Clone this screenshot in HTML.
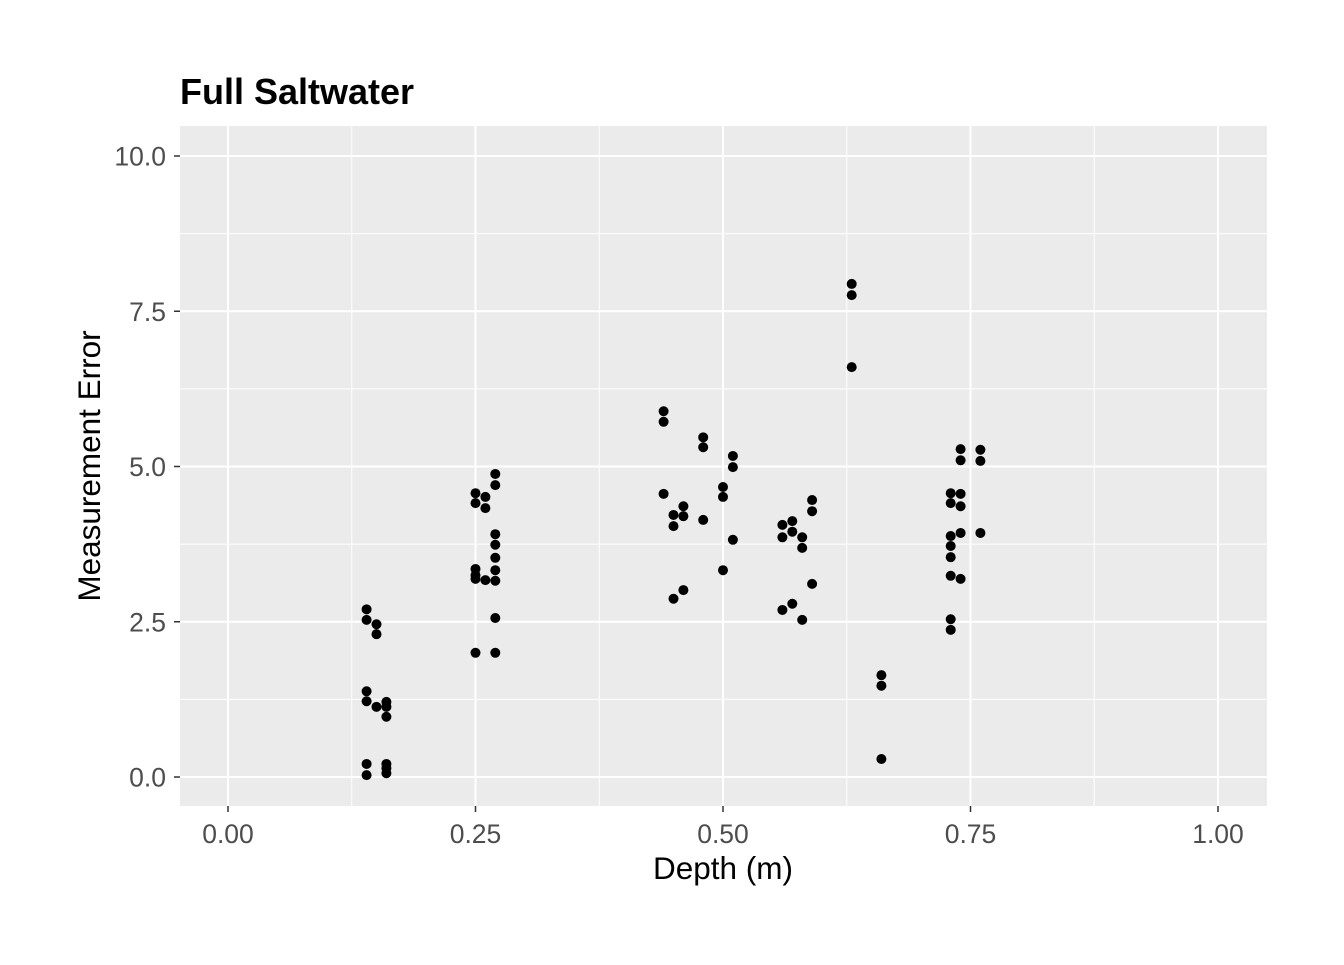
<!DOCTYPE html>
<html><head><meta charset="utf-8"><style>
body{margin:0;background:#fff;}
svg text{font-family:"Liberation Sans",sans-serif;}
</style></head><body>
<svg id="chart" width="1344" height="960" xmlns="http://www.w3.org/2000/svg">
<rect width="1344" height="960" fill="#fff"/>
<text x="180" y="104" font-size="36" font-weight="bold" fill="#000">Full Saltwater</text>
<rect x="180" y="126" width="1087" height="680" fill="#ebebeb"/>
<g id="grid"></g><g id="points"></g><g id="axes"></g>
<text x="723" y="879" font-size="31.5" text-anchor="middle" fill="#000">Depth (m)</text>
<text transform="translate(100,466) rotate(-90)" font-size="31.5" text-anchor="middle" fill="#000">Measurement Error</text>
</svg>
<script>
const depths=[0.14,0.14,0.14,0.14,0.14,0.14,0.15,0.15,0.15,0.16,0.16,0.16,0.16,0.16,0.16,
0.25,0.25,0.25,0.25,0.25,0.25,0.26,0.26,0.26,0.27,0.27,0.27,0.27,0.27,0.27,0.27,0.27,0.27,
0.44,0.44,0.44,0.45,0.45,0.45,0.46,0.46,0.46,0.48,0.48,0.48,0.50,0.50,0.50,0.51,0.51,0.51,
0.56,0.56,0.56,0.57,0.57,0.57,0.58,0.58,0.58,0.59,0.59,0.59,0.63,0.63,0.63,0.66,0.66,0.66,
0.73,0.73,0.73,0.73,0.73,0.73,0.73,0.73,0.74,0.74,0.74,0.74,0.74,0.74,0.76,0.76,0.76];
const errors=[2.70,2.53,1.38,1.22,0.21,0.03,2.46,2.30,1.13,1.21,1.13,0.97,0.21,0.14,0.06,
4.57,4.41,3.35,3.25,3.19,2.0,4.51,4.33,3.17,4.88,4.70,3.91,3.74,3.53,3.33,3.16,2.56,2.0,
5.89,5.72,4.56,4.22,4.04,2.87,4.36,4.20,3.01,5.47,5.31,4.14,4.67,4.51,3.33,5.17,4.99,3.82,
4.06,3.86,2.69,4.12,3.95,2.79,3.86,3.69,2.53,4.46,4.28,3.11,7.94,7.76,6.60,1.64,1.47,0.29,
4.57,4.41,3.88,3.72,3.54,3.24,2.54,2.37,5.28,5.10,4.56,4.36,3.93,3.19,5.27,5.09,3.93];
const xTicks=[0,0.25,0.5,0.75,1];
const xTickLabels=["0.00","0.25","0.50","0.75","1.00"];
const yTicks=[0,2.5,5,7.5,10];
const yTickLabels=["0.0","2.5","5.0","7.5","10.0"];
const X=v=>228+v*990, Y=v=>777-v*62.1;
const NS="http://www.w3.org/2000/svg";
function mk(t,a,p){const e=document.createElementNS(NS,t);for(const k in a)e.setAttribute(k,a[k]);p.appendChild(e);return e;}
const g=document.getElementById('grid'),pg=document.getElementById('points'),ax=document.getElementById('axes');
for(let i=0;i<xTicks.length-1;i++){const m=(xTicks[i]+xTicks[i+1])/2;
 const l=mk('line',{x1:X(m),x2:X(m),y1:126,y2:806,stroke:'#fff','stroke-width':1},g);
 }
for(let i=0;i<yTicks.length-1;i++){const m=(yTicks[i]+yTicks[i+1])/2;
 const l=mk('line',{x1:180,x2:1267,y1:Y(m),y2:Y(m),stroke:'#fff','stroke-width':1},g);
 }
xTicks.forEach((v,i)=>{
 const l=mk('line',{x1:X(v),x2:X(v),y1:126,y2:806,stroke:'#fff','stroke-width':2},g);
 
 const t=mk('line',{x1:X(v),x2:X(v),y1:806,y2:812,stroke:'#333','stroke-width':1.5},ax);
 
 const tx=mk('text',{x:X(v),y:843,'font-size':'26.5','text-anchor':'middle',fill:'#4d4d4d'},ax);
 tx.textContent=xTickLabels[i];
 });
yTicks.forEach((v,i)=>{
 const l=mk('line',{x1:180,x2:1267,y1:Y(v),y2:Y(v),stroke:'#fff','stroke-width':2},g);
 
 const t=mk('line',{x1:174,x2:180,y1:Y(v),y2:Y(v),stroke:'#333','stroke-width':1.5},ax);
 
 const tx=mk('text',{x:166,y:Y(v)+9.5,'font-size':'26.5','text-anchor':'end',fill:'#4d4d4d'},ax);
 tx.textContent=yTickLabels[i];
 });
depths.forEach((d,i)=>{
 const c=mk('circle',{cx:X(d),cy:Y(errors[i]),r:5,fill:'#000'},pg);
 });
</script>
</body></html>
